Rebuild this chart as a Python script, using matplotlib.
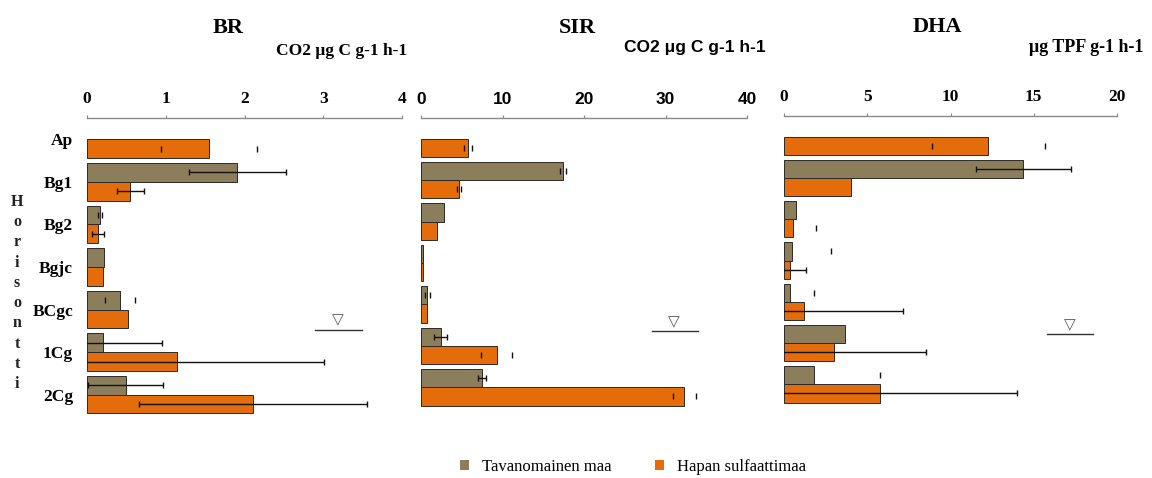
import matplotlib.pyplot as plt
import numpy as np
from matplotlib.lines import Line2D
from matplotlib.patches import Patch

nan = np.nan

horizons = ["Ap", "Bg1", "Bg2", "Bgjc", "BCgc", "1Cg", "2Cg"]
series_names = ["Tavanomainen maa", "Hapan sulfaattimaa"]

# BR, CO2 ug C g-1 h-1
br_normal = [nan, 1.91, 0.165, 0.22, 0.42, 0.20, 0.49]
br_normal_err = [0, 0.62, 0, 0, 0, 0.75, 0.48]
br_normal_cap = [0, 0, 0.03, 0, 0.19, 0, 0]
br_acid = [1.55, 0.55, 0.14, 0.20, 0.52, 1.14, 2.11]
br_acid_err = [0, 0.17, 0.08, 0, 0, 1.87, 1.45]
br_acid_cap = [0.61, 0, 0, 0, 0, 0, 0]

# SIR, CO2 ug C g-1 h-1
sir_normal = [nan, 17.4, 2.8, 0.3, 0.77, 2.4, 7.45]
sir_normal_err = [0, 0, 0, 0, 0, 0.8, 0.5]
sir_normal_cap = [0, 0.4, 0, 0, 0.3, 0, 0]
sir_acid = [5.8, 4.66, 2.0, 0.2, 0.7, 9.3, 32.3]
sir_acid_err = [0, 0, 0, 0, 0, 0, 0]
sir_acid_cap = [0.5, 0.3, 0, 0, 0, 1.9, 1.4]

# DHA, ug TPF g-1 h-1
dha_normal = [nan, 14.38, 0.7, 0.46, 0.36, 3.67, 1.8]
dha_normal_err = [0, 2.85, 0, 0, 0, 0, 0]
dha_normal_cap = [0, 0, 0, 2.37, 1.45, 0, 3.98]
dha_acid = [12.27, 4.02, 0.56, 0.36, 1.22, 3.03, 5.74]
dha_acid_err = [0, 0, 0, 0.97, 5.93, 5.5, 8.28]
dha_acid_cap = [3.4, 0, 1.34, 0, 0, 0, 0]

C_NORMAL = "#8c7e5a"
C_ACID = "#e46c0a"
SERIF = "Liberation Serif"
SANS = "Liberation Sans"

plt.rcParams["font.family"] = SERIF

fig = plt.figure(figsize=(11.52, 4.78), dpi=100)

W, H = 1152, 478


def px_axes(left, right, top, bottom):
    return fig.add_axes([left / W, 1 - bottom / H, (right - left) / W, (bottom - top) / H])


def draw_panel(ax, normal, n_err, n_cap, acid, a_err, a_cap, xmax, xticks, tick_font, wt):
    y = np.arange(len(horizons))
    h = 0.44
    ax.barh(y - h / 2, normal, height=h, color=C_NORMAL, edgecolor="#2a2a2a", linewidth=0.7)
    ax.barh(y + h / 2, acid, height=h, color=C_ACID, edgecolor="#2a2a2a", linewidth=0.7)
    for vals, errs, caps, off in [(normal, n_err, n_cap, -h / 2), (acid, a_err, a_cap, h / 2)]:
        v = np.nan_to_num(np.array(vals, dtype=float))
        e = np.array(errs, dtype=float)
        c = np.array(caps, dtype=float)
        m = e > 0
        if m.any():
            ax.errorbar(v[m], y[m] + off, xerr=e[m], fmt="none", ecolor="#111111",
                        elinewidth=1.0, capsize=2, capthick=1.0)
        m = c > 0
        if m.any():
            ax.errorbar(v[m], y[m] + off, xerr=c[m], fmt="none", ecolor="#111111",
                        elinewidth=0, capsize=2, capthick=1.0)
    ax.set_xlim(0, xmax)
    ax.set_ylim(6.5, -0.5)
    ax.xaxis.tick_top()
    ax.set_xticks(xticks)
    ax.set_xticklabels([str(t) for t in xticks], fontfamily=tick_font, fontweight="bold", fontsize=12.5)
    ax.tick_params(axis="x", length=2, pad=6, color="#888888")
    ax.set_yticks(y)
    ax.set_yticklabels([])
    ax.tick_params(axis="y", length=0)
    for s in ["left", "right", "bottom"]:
        ax.spines[s].set_visible(False)
    ax.spines["top"].set_color("#8a8a8a")
    ax.spines["top"].set_linewidth(1.0)
    # water table symbol
    tx, ty, lx0, lx1, ly = wt
    ax.text(tx, ty, "\u25BD", transform=ax.transAxes, ha="center", va="center",
            fontsize=11, color="#555555", family="DejaVu Sans")
    ax.add_line(Line2D([lx0, lx1], [ly, ly], transform=ax.transAxes, color="#333333", lw=1.0))


ax_br = px_axes(87, 402, 118, 416)
draw_panel(ax_br, br_normal, br_normal_err, br_normal_cap, br_acid, br_acid_err, br_acid_cap,
           4, [0, 1, 2, 3, 4], SERIF, (0.797, 0.322, 0.724, 0.873, 0.289))
ax_br.set_yticklabels(horizons, fontweight="bold", fontsize=12.5)
ax_br.tick_params(axis="y", pad=10)

ax_sir = px_axes(421, 747, 118, 408)
draw_panel(ax_sir, sir_normal, sir_normal_err, sir_normal_cap, sir_acid, sir_acid_err, sir_acid_cap,
           40, [0, 10, 20, 30, 40], SANS, (0.776, 0.297, 0.709, 0.850, 0.266))

ax_dha = px_axes(784, 1117, 116, 405)
draw_panel(ax_dha, dha_normal, dha_normal_err, dha_normal_cap, dha_acid, dha_acid_err, dha_acid_cap,
           20, [0, 5, 10, 15, 20], SERIF, (0.859, 0.277, 0.790, 0.928, 0.246))

# titles and units
fig.text(228 / W, 1 - 28 / H, "BR", ha="center", va="center", fontsize=16, fontweight="bold")
fig.text(342 / W, 1 - 51 / H, "CO2 \u03bcg C g-1 h-1", ha="center", va="center", fontsize=12.5, fontweight="bold")
fig.text(577 / W, 1 - 28 / H, "SIR", ha="center", va="center", fontsize=16, fontweight="bold")
fig.text(695 / W, 1 - 47 / H, "CO2 \u03bcg C g-1 h-1", ha="center", va="center", fontsize=12.5,
         fontweight="bold", family=SANS)
fig.text(937 / W, 1 - 27 / H, "DHA", ha="center", va="center", fontsize=16, fontweight="bold")
fig.text(1086 / W, 1 - 47 / H, "\u03bcg TPF g-1 h-1", ha="center", va="center", fontsize=13, fontweight="bold")

# vertical axis label, stacked letters
fig.text(17 / W, 1 - 293 / H, "\n".join("Horisontti"), ha="center", va="center",
         fontsize=11.5, fontweight="bold", linespacing=1.36, color="#222222")

handles = [Patch(facecolor=C_NORMAL), Patch(facecolor=C_ACID)]
fig.legend(handles, series_names, loc="center", bbox_to_anchor=(633 / W, 1 - 467 / H), ncol=2,
           frameon=False, fontsize=12, handlelength=0.55, handleheight=0.55, columnspacing=2.6,
           handletextpad=0.8)

fig.savefig("out.png", dpi=100)
